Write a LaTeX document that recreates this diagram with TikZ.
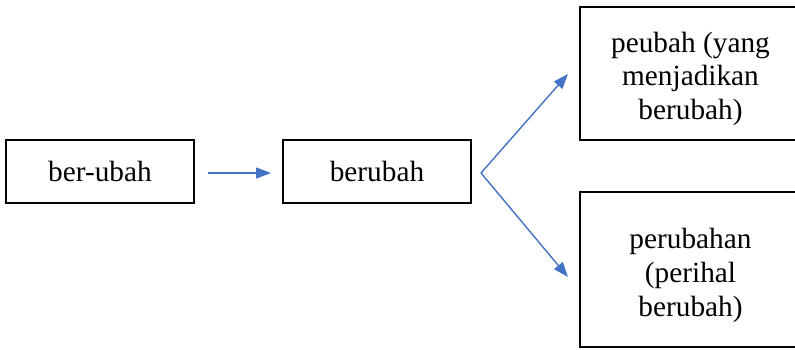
\documentclass[tikz,border=0pt]{standalone}
\usepackage{fontspec}
\setmainfont{Liberation Serif}
\usetikzlibrary{arrows.meta}
\definecolor{arrblue}{HTML}{4472C4}
\tikzset{
  boxnode/.style={draw=black, line width=2pt, rectangle, inner sep=0pt, align=center,
    font=\fontsize{29.3}{33.7}\selectfont},
  conn/.style={draw=arrblue, line width=1.4pt, -{Triangle[length=15pt,width=11pt]}},
}
\begin{document}
\begin{tikzpicture}[x=1pt,y=-1pt]
\useasboundingbox (0,0) rectangle (795,349);
\clip (0,0) rectangle (795,349);
\fill[white] (0,0) rectangle (795,349);
\node[boxnode, minimum width=188pt, minimum height=63pt] (b1) at (100,171.5) {ber-ubah};
\node[boxnode, minimum width=188pt, minimum height=63pt] (b2) at (377,171.5) {berubah};
\node[boxnode, minimum width=221pt, minimum height=133pt, text height=98pt, text depth=6pt] (b3) at (690.5,73.5) {peubah (yang\\menjadikan\\berubah)};
\node[boxnode, minimum width=221pt, minimum height=155pt, text height=99.5pt, text depth=6pt] (b4) at (690.5,269.5) {perubahan\\(perihal\\berubah)};
\coordinate (a1s) at (208,173);
\coordinate (a1e) at (271,173);
\coordinate (fork) at (481,173);
\coordinate (a2e) at (568,74);
\coordinate (a3e) at (568,277);
\draw[conn] (a1s) -- (a1e);
\draw[conn] (fork) -- (a2e);
\draw[conn] (fork) -- (a3e);
\end{tikzpicture}
\end{document}
